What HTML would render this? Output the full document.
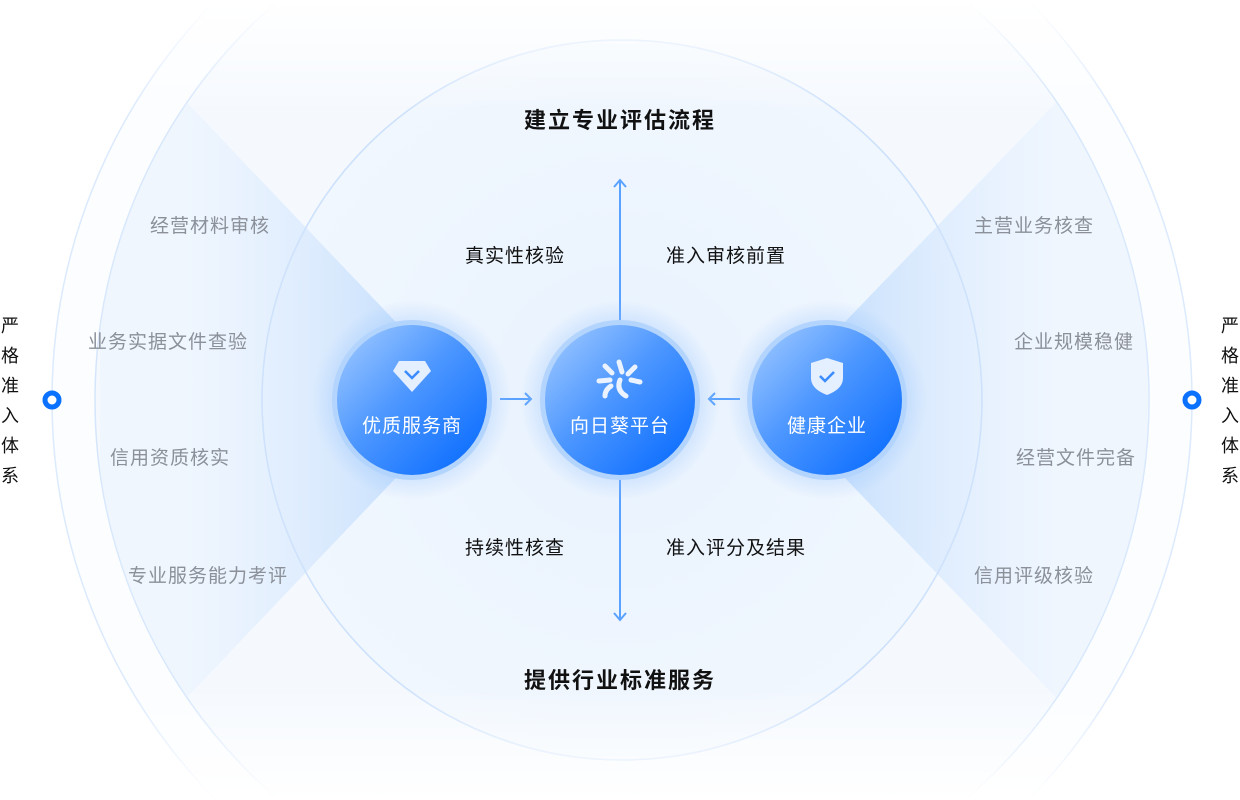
<!DOCTYPE html>
<html><head><meta charset="utf-8"><style>
html,body{margin:0;padding:0;background:#fff;width:1240px;height:800px;overflow:hidden;}
svg{display:block}
text{font-family:"Liberation Sans","Noto Sans CJK SC",sans-serif;}
</style></head><body>
<svg width="1240" height="800" viewBox="0 0 1240 800" xmlns="http://www.w3.org/2000/svg">
<defs>
<radialGradient id="inner" cx="622" cy="400" r="360" gradientUnits="userSpaceOnUse">
<stop offset="0" stop-color="#e8f2fe"/><stop offset="1" stop-color="#f1f7fe"/>
</radialGradient>
<linearGradient id="wl" x1="470" y1="0" x2="175" y2="0" gradientUnits="userSpaceOnUse">
<stop offset="0" stop-color="#a9cffd" stop-opacity="1"/><stop offset="0.45" stop-color="#cfe4fd" stop-opacity="0.9"/><stop offset="1" stop-color="#e8f2fe" stop-opacity="0.5"/>
</linearGradient>
<linearGradient id="wr" x1="770" y1="0" x2="1068" y2="0" gradientUnits="userSpaceOnUse">
<stop offset="0" stop-color="#a9cffd" stop-opacity="1"/><stop offset="0.45" stop-color="#cfe4fd" stop-opacity="0.9"/><stop offset="1" stop-color="#e8f2fe" stop-opacity="0.5"/>
</linearGradient>
<linearGradient id="node" x1="0" y1="0" x2="1" y2="1">
<stop offset="0" stop-color="#a6cdff"/><stop offset="0.45" stop-color="#4d97ff"/><stop offset="1" stop-color="#0066ff"/>
</linearGradient>
<radialGradient id="glow"><stop offset="0.6" stop-color="#8fbfff" stop-opacity="0.5"/><stop offset="1" stop-color="#8fbfff" stop-opacity="0"/></radialGradient>
<linearGradient id="fade" x1="0" y1="0" x2="0" y2="1">
<stop offset="0" stop-color="#fff" stop-opacity="1"/><stop offset="0.14" stop-color="#fff" stop-opacity="0"/><stop offset="0.86" stop-color="#fff" stop-opacity="0"/><stop offset="1" stop-color="#fff" stop-opacity="1"/>
</linearGradient>
<clipPath id="c527"><circle cx="622" cy="400" r="527"/></clipPath>
</defs>
<circle cx="622" cy="400" r="570" fill="#fbfdff" stroke="#dceafd" stroke-width="1.5"/>
<circle cx="622" cy="400" r="527" fill="#f5f9fe" stroke="#d5e6fc" stroke-width="1.5"/>
<circle cx="622" cy="400" r="360" fill="url(#inner)" stroke="#cfe2fc" stroke-width="1.5"/>
<g clip-path="url(#c527)">
<polygon points="470,400 175,90 100,90 100,710 175,710" fill="url(#wl)" opacity="0.8"/>
<polygon points="770,400 1068,90 1150,90 1150,710 1068,710" fill="url(#wr)" opacity="0.8"/>
</g>
<circle cx="622" cy="400" r="360" fill="none" stroke="#cfe2fc" stroke-width="1.5"/>
<rect x="0" y="0" width="1240" height="800" fill="url(#fade)"/>
<circle cx="52" cy="400" r="7" fill="#fff" stroke="#0a72ff" stroke-width="5"/>
<circle cx="1192" cy="400" r="7" fill="#fff" stroke="#0a72ff" stroke-width="5"/>
<g font-size="18" fill="#111">
<text x="10" y="332" text-anchor="middle">严</text><text x="10" y="362" text-anchor="middle">格</text><text x="10" y="392" text-anchor="middle">准</text><text x="10" y="422" text-anchor="middle">入</text><text x="10" y="452" text-anchor="middle">体</text><text x="10" y="482" text-anchor="middle">系</text>
<text x="1230" y="332" text-anchor="middle">严</text><text x="1230" y="362" text-anchor="middle">格</text><text x="1230" y="392" text-anchor="middle">准</text><text x="1230" y="422" text-anchor="middle">入</text><text x="1230" y="452" text-anchor="middle">体</text><text x="1230" y="482" text-anchor="middle">系</text>
</g>
<g font-size="19" fill="#8b9099" text-anchor="middle" letter-spacing="1">
<text x="210" y="232">经营材料审核</text>
<text x="168" y="348">业务实据文件查验</text>
<text x="170" y="464">信用资质核实</text>
<text x="208" y="582">专业服务能力考评</text>
<text x="1034" y="232">主营业务核查</text>
<text x="1074" y="348">企业规模稳健</text>
<text x="1076" y="464">经营文件完备</text>
<text x="1034" y="582">信用评级核验</text>
</g>
<g font-size="22" font-weight="bold" fill="#111" text-anchor="middle" letter-spacing="2">
<text x="620" y="128">建立专业评估流程</text>
<text x="620" y="688">提供行业标准服务</text>
</g>
<g font-size="19" fill="#111" text-anchor="middle" letter-spacing="1">
<text x="515" y="262">真实性核验</text>
<text x="726" y="262">准入审核前置</text>
<text x="515" y="554">持续性核查</text>
<text x="736" y="554">准入评分及结果</text>
</g>
<g stroke="#5aa2ff" stroke-width="2" fill="none">
<line x1="620" y1="180" x2="620" y2="322"/><polyline points="614,187 620,180 626,187"/>
<line x1="620" y1="478" x2="620" y2="620"/><polyline points="614,613 620,620 626,613"/>
<line x1="500" y1="399" x2="531" y2="399"/><polyline points="525,393 531,399 525,405"/>
<line x1="740" y1="399" x2="709" y2="399"/><polyline points="715,393 709,399 715,405"/>
</g>
<g>
<circle cx="412" cy="400" r="100" fill="url(#glow)"/>
<circle cx="620" cy="400" r="100" fill="url(#glow)"/>
<circle cx="827" cy="400" r="100" fill="url(#glow)"/>
<circle cx="412" cy="400" r="80" fill="#b3d4fd"/>
<circle cx="620" cy="400" r="80" fill="#b3d4fd"/>
<circle cx="827" cy="400" r="80" fill="#b3d4fd"/>
<circle cx="412" cy="400" r="75" fill="url(#node)"/>
<circle cx="620" cy="400" r="75" fill="url(#node)"/>
<circle cx="827" cy="400" r="75" fill="url(#node)"/>
</g>
<polygon points="399,361 425,361 431,371 412,392 393,371" fill="#e4efff"/>
<polyline points="405,371 412,378 419,371" stroke="#3b8cff" stroke-width="2.5" fill="none"/>
<path d="M827,358 L843,363 L843,378 Q843,389 827,395 Q811,389 811,378 L811,363 Z" fill="#e4efff"/>
<polyline points="820,376 825,381 834,372" stroke="#3b8cff" stroke-width="2.5" fill="none"/>
<g stroke="#eaf3ff" stroke-width="5" stroke-linecap="round" fill="none">
<line x1="619" y1="362" x2="622" y2="372"/>
<line x1="605" y1="366" x2="612" y2="373"/>
<line x1="635" y1="367" x2="628" y2="374"/>
<line x1="599" y1="381" x2="610" y2="380"/>
<line x1="631" y1="380" x2="640" y2="382"/>
<path d="M611,386 Q605,390 605,396"/>
<path d="M620,380 Q616,390 626,396"/>
</g>
<g font-size="19" fill="#fff" text-anchor="middle" letter-spacing="1">
<text x="412" y="432">优质服务商</text>
<text x="620" y="432">向日葵平台</text>
<text x="827" y="432">健康企业</text>
</g>
</svg>
</body></html>
